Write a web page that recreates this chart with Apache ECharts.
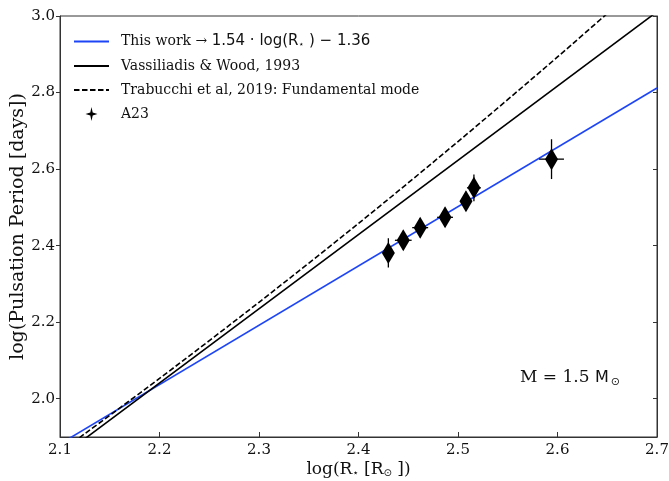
<!DOCTYPE html>
<html>
<head>
<meta charset="utf-8">
<script src="https://cdn.jsdelivr.net/npm/echarts@6/dist/echarts.min.js"></script>
<style>html,body{margin:0;padding:0;background:#fff}#chart{width:669px;height:481px}</style>
</head>
<body>
<div id="chart"></div>
<script>
// ---- values ----
const xTicks = [2.1, 2.2, 2.3, 2.4, 2.5, 2.6, 2.7];
const yTicks = [2.0, 2.2, 2.4, 2.6, 2.8, 3.0];

const thisWork = [[2.1, 1.882], [2.7, 2.812]];
const vassiliadis = [[2.1, 1.847], [2.7, 3.011]];
const trabucchi = [[2.1, 1.861], [2.2, 2.053], [2.3, 2.252], [2.4, 2.458], [2.5, 2.672], [2.6, 2.893], [2.7, 3.121]];

const a23LogR = [2.430, 2.445, 2.462, 2.487, 2.508, 2.516, 2.594];
const a23LogP = [2.381, 2.414, 2.447, 2.474, 2.516, 2.551, 2.626];
const a23ErrR = [0.005, 0.0084, 0.008, 0.008, 0.006, 0.007, 0.0125];
const a23ErrP = [0.038, 0.025, 0.025, 0.025, 0.025, 0.035, 0.052];

const SERIF = '"DejaVu Serif", serif';
const SANS = '"DejaVu Sans", sans-serif';
const BLUE = '#1d45f5';

const points = a23LogR.map((r, i) => [r, a23LogP[i]]);
const errs = a23LogR.map((r, i) => [r, a23LogP[i], a23ErrR[i], a23ErrP[i]]);

const chart = echarts.init(document.getElementById('chart'));
chart.setOption({
  animation: false,
  grid: {
    left: 60, right: 12, top: 16, bottom: 44, outerBoundsMode: 'none', containLabel: false,
    show: true, borderColor: '#333', borderWidth: 1
  },
  legend: {
    orient: 'vertical', left: 68, top: 29,
    itemWidth: 35, itemHeight: 14, itemGap: 10,
    textStyle: {
      fontFamily: SERIF, fontSize: 14, color: '#111', padding: [0, 0, 0, 7],
      rich: {
        a: { fontFamily: SERIF, fontSize: 14, color: '#111' },
        m: { fontFamily: SANS, fontSize: 15, color: '#111' },
        s: { fontFamily: SANS, fontSize: 9, color: '#111', padding: [6, 0, 0, 0] }
      }
    },
    formatter: name => name === 'This work'
      ? '{a|This work →} {m|1.54 · log(R}{s|⋆}{m| ) − 1.36}'
      : '{a|' + name + '}',
    data: [
      { name: 'This work', itemStyle: { opacity: 0 } },
      { name: 'Vassiliadis & Wood, 1993', itemStyle: { opacity: 0 } },
      { name: 'Trabucchi et al, 2019: Fundamental mode', itemStyle: { opacity: 0 } },
      { name: 'A23', icon: 'path://M6,0 L7.2,5.6 L12,7 L7.2,8.4 L6,14 L4.8,8.4 L0,7 L4.8,5.6 Z', itemStyle: { opacity: 1 } }
    ]
  },
  xAxis: {
    type: 'value', min: 2.1, max: 2.7,
    name: '{a|log(R}{s|⋆}{a| [R}{s|⊙}{a| ])}',
    nameLocation: 'middle', nameGap: 24, nameMoveOverlap: false,
    nameTextStyle: {
      verticalAlign: 'top',
      rich: {
        a: { fontFamily: SERIF, fontSize: 17, color: '#111' },
        s: { fontFamily: SANS, fontSize: 10, color: '#111', padding: [7, 0, 0, 0] }
      }
    },
    axisLine: { show: true, lineStyle: { color: '#333', width: 1 } },
    axisTick: { show: true, inside: true, length: 5, customValues: xTicks, lineStyle: { color: '#333' } },
    axisLabel: { customValues: xTicks, formatter: v => v.toFixed(1), fontFamily: SERIF, fontSize: 15, color: '#111', margin: 6 },
    splitLine: { show: false }
  },
  yAxis: [{
    type: 'value', min: 1.9, max: 3.0,
    name: 'log(Pulsation Period [days])',
    nameLocation: 'middle', nameGap: 32, nameMoveOverlap: false,
    nameTextStyle: { fontFamily: SERIF, fontSize: 19, color: '#111' },
    axisLine: { show: true, lineStyle: { color: '#333', width: 1 } },
    axisTick: { show: true, inside: false, length: 4, customValues: yTicks, lineStyle: { color: '#333' } },
    axisLabel: { customValues: yTicks, formatter: v => v.toFixed(1), fontFamily: SERIF, fontSize: 15, color: '#111', margin: 5 },
    splitLine: { show: false }
  }, {
    type: 'value', min: 1.9, max: 3.0, position: 'right',
    axisLine: { show: true, lineStyle: { color: '#333', width: 1 } },
    axisTick: { show: true, inside: true, length: 4, customValues: yTicks, lineStyle: { color: '#333' } },
    axisLabel: { show: false },
    splitLine: { show: false }
  }],
  graphic: [{
    type: 'text', left: 520, top: 369, z: 10,
    style: {
      text: '{a|M = 1.5 }{m|M}{s|⊙}',
      rich: {
        a: { fontFamily: SERIF, fontSize: 17, fill: '#111' },
        m: { fontFamily: SANS, fontSize: 16, fill: '#111' },
        s: { fontFamily: SANS, fontSize: 11, fill: '#111', padding: [9, 0, 0, 2] }
      }
    }
  }],
  series: [
    {
      name: 'This work', type: 'line', data: thisWork, symbol: 'none', clip: true,
      lineStyle: { color: BLUE, width: 1.6 }, itemStyle: { color: BLUE }, z: 3
    },
    {
      name: 'Vassiliadis & Wood, 1993', type: 'line', data: vassiliadis, symbol: 'none', clip: true,
      lineStyle: { color: '#000', width: 1.6 }, itemStyle: { color: '#000' }, z: 3
    },
    {
      name: 'Trabucchi et al, 2019: Fundamental mode', type: 'line', data: trabucchi, symbol: 'none', clip: true,
      smooth: 0.3,
      lineStyle: { color: '#000', width: 1.6, type: [5.5, 2.5] }, itemStyle: { color: '#000' }, z: 3
    },
    {
      name: 'A23err', type: 'custom', data: errs, encode: { x: 0, y: 1 }, z: 4,
      renderItem(params, api) {
        const x = api.value(0), y = api.value(1), ex = api.value(2), ey = api.value(3);
        const l = api.coord([x - ex, y]), r = api.coord([x + ex, y]);
        const b = api.coord([x, y - ey]), t = api.coord([x, y + ey]);
        const style = { stroke: '#000', lineWidth: 1.3 };
        return {
          type: 'group', children: [
            { type: 'line', shape: { x1: l[0], y1: l[1], x2: r[0], y2: r[1] }, style },
            { type: 'line', shape: { x1: b[0], y1: b[1], x2: t[0], y2: t[1] }, style }
          ]
        };
      }
    },
    {
      name: 'A23', type: 'scatter', data: points, symbol: 'diamond', symbolSize: [13, 22],
      itemStyle: { color: '#000', opacity: 1 }, z: 5
    }
  ]
});
</script>
</body>
</html>
